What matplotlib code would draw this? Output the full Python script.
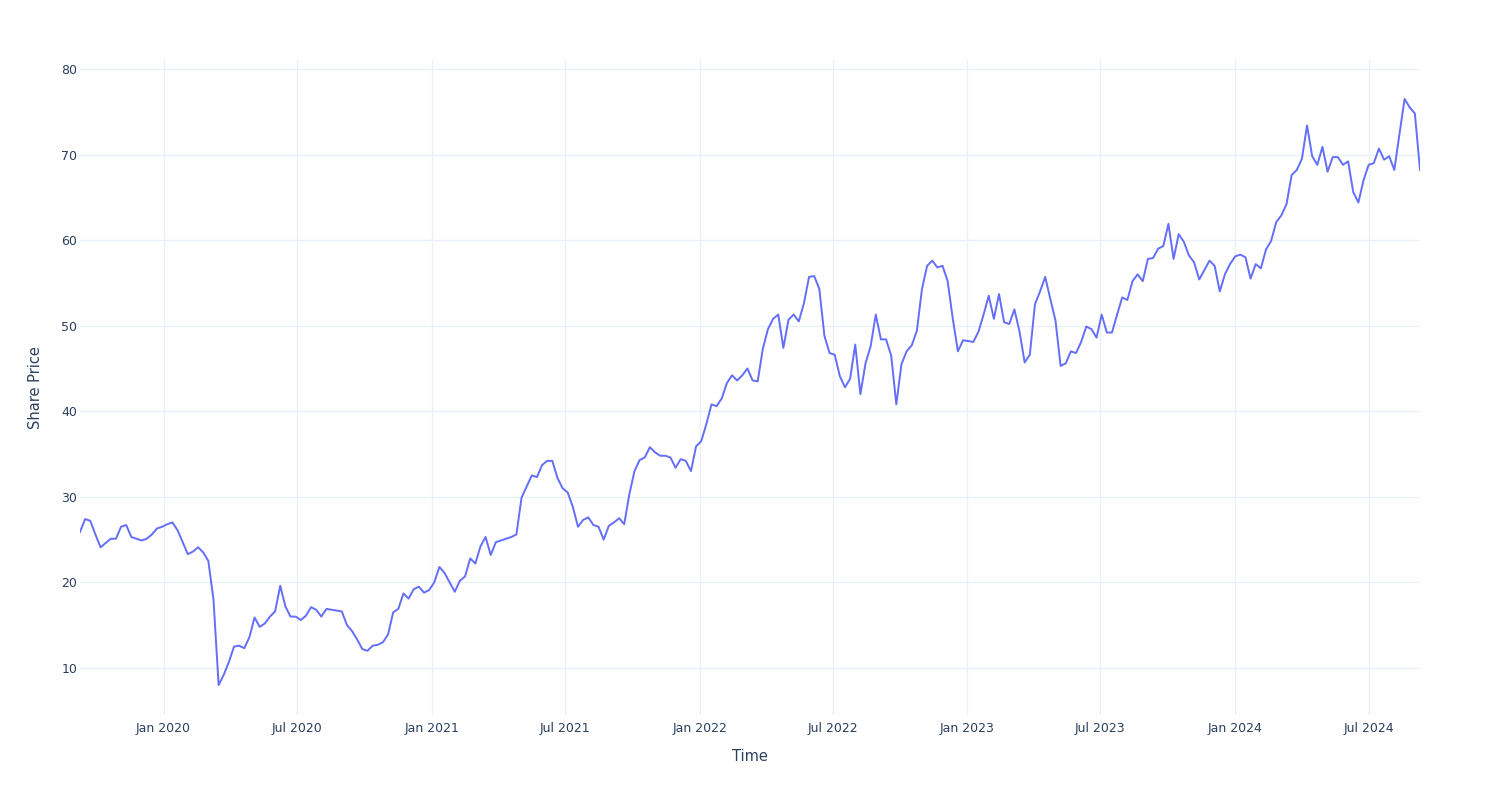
import pandas as pd
import matplotlib.pyplot as plt
import matplotlib.dates as mdates

# weekly share price (Sep 2019 - Sep 2024)
start_date = "2019-09-09"
prices = [
    25.9, 27.4, 27.2, 25.6, 24.1, 24.6, 25.1, 25.1, 26.5, 26.7,
    25.3, 25.1, 24.9, 25.1, 25.6, 26.3, 26.5, 26.8, 27.0, 26.1,
    24.7, 23.3, 23.6, 24.1, 23.5, 22.5, 18.0, 8.0, 9.2, 10.7,
    12.5, 12.6, 12.3, 13.6, 15.9, 14.8, 15.2, 16.0, 16.6, 19.6,
    17.2, 16.0, 16.0, 15.6, 16.1, 17.1, 16.8, 16.0, 16.9, 16.8,
    16.7, 16.6, 15.0, 14.3, 13.3, 12.2, 12.0, 12.6, 12.7, 13.0,
    13.9, 16.5, 16.9, 18.7, 18.1, 19.2, 19.5, 18.8, 19.1, 20.0,
    21.8, 21.1, 20.0, 18.9, 20.2, 20.7, 22.8, 22.2, 24.2, 25.3,
    23.2, 24.7, 24.9, 25.1, 25.3, 25.6, 29.9, 31.2, 32.5, 32.3,
    33.7, 34.2, 34.2, 32.2, 31.0, 30.5, 28.8, 26.5, 27.3, 27.6,
    26.7, 26.5, 25.0, 26.6, 27.0, 27.5, 26.8, 30.3, 33.0, 34.3,
    34.6, 35.8, 35.2, 34.8, 34.8, 34.6, 33.4, 34.4, 34.2, 33.0,
    35.9, 36.5, 38.5, 40.8, 40.6, 41.5, 43.3, 44.2, 43.6, 44.2,
    45.0, 43.6, 43.5, 47.3, 49.6, 50.8, 51.3, 47.4, 50.7, 51.3,
    50.5, 52.6, 55.7, 55.8, 54.3, 48.8, 46.8, 46.6, 44.1, 42.8,
    43.8, 47.8, 42.0, 45.6, 47.6, 51.3, 48.4, 48.4, 46.5, 40.8,
    45.5, 47.0, 47.7, 49.4, 54.3, 57.0, 57.6, 56.8, 57.0, 55.2,
    50.8, 47.0, 48.3, 48.2, 48.1, 49.3, 51.3, 53.5, 50.8, 53.7,
    50.4, 50.2, 51.9, 49.3, 45.7, 46.6, 52.5, 54.0, 55.7, 53.1,
    50.6, 45.3, 45.6, 47.0, 46.8, 48.1, 49.9, 49.6, 48.6, 51.3,
    49.2, 49.2, 51.3, 53.3, 53.0, 55.2, 56.0, 55.2, 57.8, 57.9,
    59.0, 59.3, 61.9, 57.8, 60.7, 59.8, 58.2, 57.4, 55.4, 56.5,
    57.6, 57.0, 54.0, 56.0, 57.2, 58.1, 58.3, 58.0, 55.5, 57.2,
    56.7, 58.9, 59.9, 62.1, 62.9, 64.2, 67.6, 68.2, 69.5, 73.4,
    69.8, 68.8, 70.9, 68.0, 69.7, 69.7, 68.8, 69.2, 65.6, 64.4,
    67.0, 68.8, 69.0, 70.7, 69.4, 69.8, 68.2, 72.4, 76.5, 75.5,
    74.8, 68.2,
]
dates = pd.date_range(start_date, periods=len(prices), freq="7D")

y_ticks = [10, 20, 30, 40, 50, 60, 70, 80]

text_color = "#2a3f5f"
grid_color = "#ebf0f8"
line_color = "#636efa"

plt.rcParams["font.family"] = ["DejaVu Sans"]

fig = plt.figure(figsize=(15, 8), dpi=100)
ax = fig.add_axes([80 / 1500, 1 - 715 / 800, 1340 / 1500, 655 / 800])

ax.plot(dates, prices, color=line_color, linewidth=1.4)

# axes ranges like plotly autorange
ax.set_xlim(dates[0], dates[-1])
ax.set_ylim(4.5, 81.05)

ax.xaxis.set_major_locator(mdates.MonthLocator(bymonth=[1, 7]))
ax.xaxis.set_major_formatter(mdates.DateFormatter("%b %Y"))
ax.set_yticks(y_ticks)

ax.grid(True, color=grid_color, linewidth=1)
ax.set_axisbelow(True)
for side in ax.spines.values():
    side.set_visible(False)
ax.tick_params(axis="both", length=0, labelsize=9, labelcolor=text_color)
ax.tick_params(axis="x", pad=5)
ax.tick_params(axis="y", pad=2)

ax.set_xlabel("Time", fontsize=10.5, color=text_color, labelpad=10)
ax.set_ylabel("Share Price", fontsize=10.5, color=text_color, labelpad=13)

plt.savefig("out.png", dpi=100)
